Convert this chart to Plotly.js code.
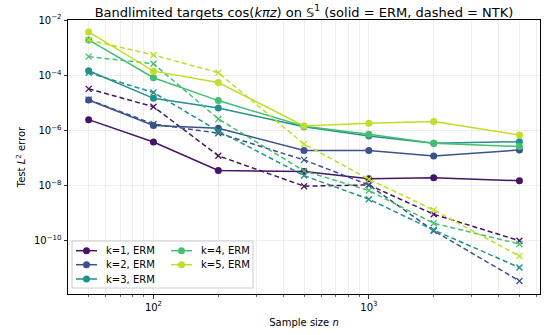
<!DOCTYPE html>
<html><head><meta charset="utf-8">
<script src="https://cdn.plot.ly/plotly-3.0.1.min.js"></script>
<style>body{margin:0;padding:0;background:#fff}#chart{width:546px;height:335px}</style>
</head><body><div id="chart"></div>
<script>
const sampleSizes = [50, 100, 200, 500, 1000, 2000, 5000];
const kLabels = ["k=1", "k=2", "k=3", "k=4", "k=5"];
const colors = ["#471365", "#3b528b", "#21918c", "#44bf70", "#bddf26"];

const ermK1 = [2.45e-6, 3.8e-7, 3.55e-8, 3.2e-8, 1.78e-8, 1.9e-8, 1.5e-8];
const ermK2 = [1.26e-5, 1.5e-6, 1.2e-6, 1.86e-7, 1.86e-7, 1.17e-7, 1.95e-7];
const ermK3 = [1.45e-4, 1.45e-5, 6.5e-6, 1.35e-6, 6.3e-7, 3.4e-7, 3.9e-7];
const ermK4 = [1.9e-3, 8.1e-5, 1.2e-5, 1.4e-6, 7.2e-7, 3.4e-7, 2.6e-7];
const ermK5 = [3.7e-3, 1.4e-4, 5.4e-5, 1.45e-6, 1.8e-6, 2.1e-6, 6.8e-7];

const ntkK1 = [3.2e-5, 7.2e-6, 1.2e-7, 9.5e-9, 1.05e-8, 9.1e-10, 1.0e-10];
const ntkK2 = [1.3e-5, 1.7e-6, 7.9e-7, 8.5e-8, 1.05e-8, 2.3e-10, 3.5e-12];
const ntkK3 = [1.23e-4, 2.35e-5, 9.5e-7, 2.3e-8, 3.2e-9, 2.45e-10, 1.07e-11];
const ntkK4 = [4.7e-4, 2.6e-4, 2.6e-6, 3.4e-8, 6.6e-9, 4.3e-10, 7.6e-11];
const ntkK5 = [1.9e-3, 5.4e-4, 1.23e-4, 3.2e-7, 1.7e-8, 1.3e-9, 2.8e-11];

const ermSeries = [ermK1, ermK2, ermK3, ermK4, ermK5];
const ntkSeries = [ntkK1, ntkK2, ntkK3, ntkK4, ntkK5];

const yTickVals = [1e-2, 1e-4, 1e-6, 1e-8, 1e-10];
const yTickText = ["10<sup>−2</sup>", "10<sup>−4</sup>", "10<sup>−6</sup>", "10<sup>−8</sup>", "10<sup>−10</sup>"];
const xTickVals = [100, 1000];
const xTickText = ["10<sup>2</sup>", "10<sup>3</sup>"];
const xMinorVals = [40, 50, 60, 70, 80, 90, 200, 300, 400, 500, 600, 700, 800, 900, 2000, 3000, 4000, 5000, 6000];

const font = "DejaVu Sans, sans-serif";
const W = 546, H = 335, ML = 68, MR = 6, MT = 20, MB = 41;

const traces = [];
for (let i = 0; i < 5; i++) {
  traces.push({
    x: sampleSizes, y: ermSeries[i], type: "scatter", mode: "lines+markers",
    name: kLabels[i] + ", ERM",
    line: {color: colors[i], width: 1.5},
    marker: {color: colors[i], size: 7, symbol: "circle"},
    showlegend: false
  });
  traces.push({
    x: sampleSizes, y: ntkSeries[i], type: "scatter", mode: "lines+markers",
    name: kLabels[i] + ", NTK",
    line: {color: colors[i], width: 1.5, dash: "5px,3px"},
    marker: {color: colors[i], size: 6, symbol: "x-thin", line: {color: colors[i], width: 1.3}},
    showlegend: false
  });
}

// Legend (matplotlib style, 2 columns, column-major), drawn on a pixel-space overlay axis
const box = {x0: 72, x1: 253, y0: 241, y1: 288};
const colX = [76, 171];
const rowY = [250.7, 264.7, 279];
traces.push({
  x: [box.x0, box.x1, box.x1, box.x0, box.x0], y: [box.y0, box.y0, box.y1, box.y1, box.y0],
  xaxis: "x2", yaxis: "y2", type: "scatter", mode: "lines", fill: "toself",
  fillcolor: "rgba(255,255,255,0.85)", line: {color: "#cccccc", width: 1}, showlegend: false
});
const annotations = [];
for (let i = 0; i < 5; i++) {
  const c = i < 3 ? 0 : 1, r = i < 3 ? i : i - 3;
  const lx = colX[c], ly = rowY[r];
  traces.push({
    x: [lx, lx + 21], y: [ly, ly], xaxis: "x2", yaxis: "y2", type: "scatter", mode: "lines",
    line: {color: colors[i], width: 1.5}, showlegend: false
  });
  traces.push({
    x: [lx + 10.5], y: [ly], xaxis: "x2", yaxis: "y2", type: "scatter", mode: "markers",
    marker: {color: colors[i], size: 7, symbol: "circle"}, showlegend: false
  });
  annotations.push({
    xref: "x2", yref: "y2", x: lx + 28, y: ly, xanchor: "left", yanchor: "middle",
    text: kLabels[i] + ", ERM", showarrow: false,
    font: {family: font, size: 10, color: "#000"}
  });
}

const layout = {
  width: W, height: H,
  margin: {l: ML, r: MR, t: MT, b: MB},
  paper_bgcolor: "#fff", plot_bgcolor: "#fff",
  font: {family: font, size: 10, color: "#000"},
  showlegend: false,
  title: {
    text: "Bandlimited targets cos(<i>kπz</i>) on 𝕊<sup>1</sup> (solid = ERM, dashed = NTK)",
    font: {family: font, size: 13, color: "#000"},
    x: 0.5, xref: "paper", y: 1 - 12/H, yref: "container", yanchor: "middle"
  },
  xaxis: {
    type: "log", range: [Math.log10(40.1), Math.log10(6230)],
    tickvals: xTickVals, ticktext: xTickText,
    ticks: "outside", ticklen: 3.5, tickwidth: 0.8, tickcolor: "#000",
    showgrid: true, gridcolor: "#ebebeb", gridwidth: 0.8,
    minor: {tickvals: xMinorVals, ticks: "outside", ticklen: 2, tickwidth: 0.6, tickcolor: "#000", showgrid: true, gridcolor: "#ebebeb", gridwidth: 0.8},
    showline: true, mirror: true, linecolor: "#000", linewidth: 1,
    zeroline: false,
    tickfont: {family: font, size: 10},
    title: {text: "Sample size <i>n</i>", font: {family: font, size: 10}, standoff: 7}
  },
  yaxis: {
    type: "log", range: [-11.93, -2],
    tickvals: yTickVals, ticktext: yTickText,
    ticks: "outside", ticklen: 3.5, tickwidth: 0.8, tickcolor: "#000",
    showgrid: true, gridcolor: "#ebebeb", gridwidth: 0.8,
    showline: true, mirror: true, linecolor: "#000", linewidth: 1,
    zeroline: false,
    tickfont: {family: font, size: 10},
    title: {text: "Test <i>L</i><sup>2</sup> error", font: {family: font, size: 10}, standoff: 6}
  },
  xaxis2: {overlaying: "x", range: [ML, W - MR], visible: false, fixedrange: true},
  yaxis2: {overlaying: "y", range: [H - MB, MT], visible: false, fixedrange: true},
  annotations: annotations
};

Plotly.newPlot("chart", traces, layout, {staticPlot: true, displayModeBar: false});
</script></body></html>
